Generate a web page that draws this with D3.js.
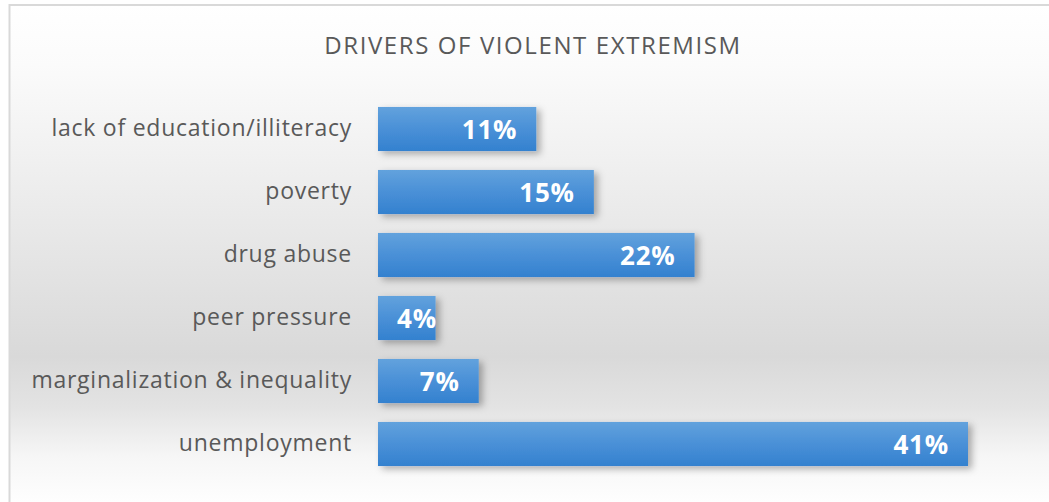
<!DOCTYPE html>
<html>
<head>
<meta charset="utf-8">
<script src="https://cdn.jsdelivr.net/npm/d3@7"></script>
<style>
  html, body { margin: 0; padding: 0; background: #ffffff; }
  svg { display: block; }
</style>
</head>
<body>
<svg id="chart" width="1049" height="502"></svg>
<script>
// Survey responses: share of respondents naming each driver
const categories = [
  "lack of education/illiteracy",
  "poverty",
  "drug abuse",
  "peer pressure",
  "marginalization & inequality",
  "unemployment"
];
const values = [11, 15, 22, 4, 7, 41];
const valueLabels = ["11%", "15%", "22%", "4%", "7%", "41%"];
const chartTitle = "DRIVERS OF VIOLENT EXTREMISM";

const W = 1049, H = 502;
const svg = d3.select("#chart");
const defs = svg.append("defs");

// Chart-area background: white at the top, grey band lower down, fading back to white
const bg = defs.append("linearGradient").attr("id", "bgGrad")
  .attr("x1", 0).attr("y1", 0).attr("x2", 0).attr("y2", 1);
[[0, "#ffffff"], [0.12, "#fbfbfb"], [0.45, "#e8e8e8"], [0.70, "#d9d9d9"],
 [0.80, "#e3e3e3"], [0.90, "#f6f6f6"], [1, "#ffffff"]]
  .forEach(([o, c]) => bg.append("stop").attr("offset", o).attr("stop-color", c));

// Bar fill: lighter blue on top, deeper blue at the bottom
const barGrad = defs.append("linearGradient").attr("id", "barGrad")
  .attr("x1", 0).attr("y1", 0).attr("x2", 0).attr("y2", 1);
[[0, "#62a2dd"], [0.5, "#4a90d7"], [1, "#3381cf"]]
  .forEach(([o, c]) => barGrad.append("stop").attr("offset", o).attr("stop-color", c));

const shadow = defs.append("filter").attr("id", "barShadow")
  .attr("x", "-10%").attr("y", "-30%").attr("width", "130%").attr("height", "180%");
shadow.append("feDropShadow")
  .attr("dx", 4).attr("dy", 3).attr("stdDeviation", 3.5)
  .attr("flood-color", "#000").attr("flood-opacity", 0.3);

// Frame
svg.append("rect")
  .attr("x", 9.5).attr("y", 5)
  .attr("width", W - 9.5 + 5).attr("height", H - 5 + 5)
  .attr("fill", "url(#bgGrad)")
  .attr("stroke", "#d9d9d9").attr("stroke-width", 2);

// Title
svg.append("text")
  .attr("x", 533).attr("y", 54)
  .attr("text-anchor", "middle")
  .attr("font-family", "'Open Sans', sans-serif")
  .attr("font-weight", 400)
  .attr("font-size", 24)
  .attr("letter-spacing", 1.6)
  .attr("fill", "#595959")
  .text(chartTitle);

const x = d3.scaleLinear().domain([0, 41]).range([378, 968]);
const y = d3.scaleBand().domain(categories)
  .range([97.5, 475.5]).paddingInner(0.3).paddingOuter(0.15);

const data = categories.map((c, i) => ({ cat: c, v: values[i], label: valueLabels[i] }));

// Category axis (no line, no ticks)
const yAxis = svg.append("g")
  .attr("transform", `translate(${x(0)},0)`)
  .call(d3.axisLeft(y).tickSize(0).tickPadding(26));
yAxis.select(".domain").remove();
yAxis.selectAll("text")
  .attr("font-family", "'Open Sans', sans-serif")
  .attr("font-size", 23)
  .attr("letter-spacing", 0.75)
  .attr("fill", "#595959");

// Bars
svg.append("g").selectAll("rect").data(data).join("rect")
  .attr("x", x(0))
  .attr("y", d => y(d.cat))
  .attr("width", d => x(d.v) - x(0))
  .attr("height", y.bandwidth())
  .attr("fill", "url(#barGrad)")
  .attr("filter", "url(#barShadow)");

// Value labels inside the bar ends
const pad = 19;
const labels = svg.append("g").selectAll("text").data(data).join("text")
  .attr("y", d => y(d.cat) + y.bandwidth() / 2)
  .attr("dy", "0.37em")
  .attr("font-family", "'Open Sans', sans-serif")
  .attr("font-weight", 700)
  .attr("font-size", 26)
  .attr("letter-spacing", 0.8)
  .attr("fill", "#ffffff")
  .text(d => d.label);
labels.each(function (d) {
  const w = this.getComputedTextLength();
  const start = Math.max(x(d.v) - pad - w, x(0) + pad);
  d3.select(this).attr("x", start);
});
</script>
</body>
</html>
